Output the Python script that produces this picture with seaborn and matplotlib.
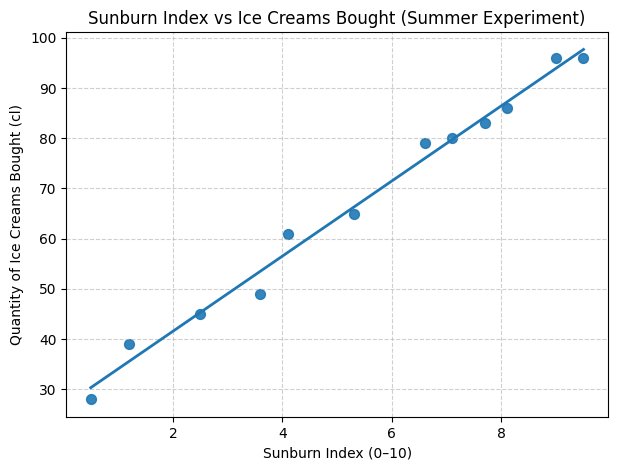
import matplotlib
matplotlib.use("Agg")
import matplotlib.pyplot as plt
import seaborn as sns
import pandas as pd

sunburn_index = [0.5, 1.2, 2.5, 3.6, 4.1, 5.3, 6.6, 7.1, 7.7, 8.1, 9.0, 9.5]
ice_cream_cl = [28, 39, 45, 49, 61, 65, 79, 80, 83, 86, 96, 96]

df = pd.DataFrame({'sunburn': sunburn_index, 'ice_cream': ice_cream_cl})

plt.figure(figsize=(6.18, 4.7), dpi=100)
ax = sns.regplot(data=df, x='sunburn', y='ice_cream', ci=None,
                 scatter_kws={'s': 50, 'alpha': 0.9}, line_kws={'linewidth': 2})
plt.title("Sunburn Index vs Ice Creams Bought (Summer Experiment)")
plt.xlabel("Sunburn Index (0–10)")
plt.ylabel("Quantity of Ice Creams Bought (cl)")
plt.grid(True, linestyle='--', alpha=0.6)
plt.subplots_adjust(left=0.107, right=0.984, top=0.932, bottom=0.113)
plt.savefig("out.png", dpi=100)
plt.close()
